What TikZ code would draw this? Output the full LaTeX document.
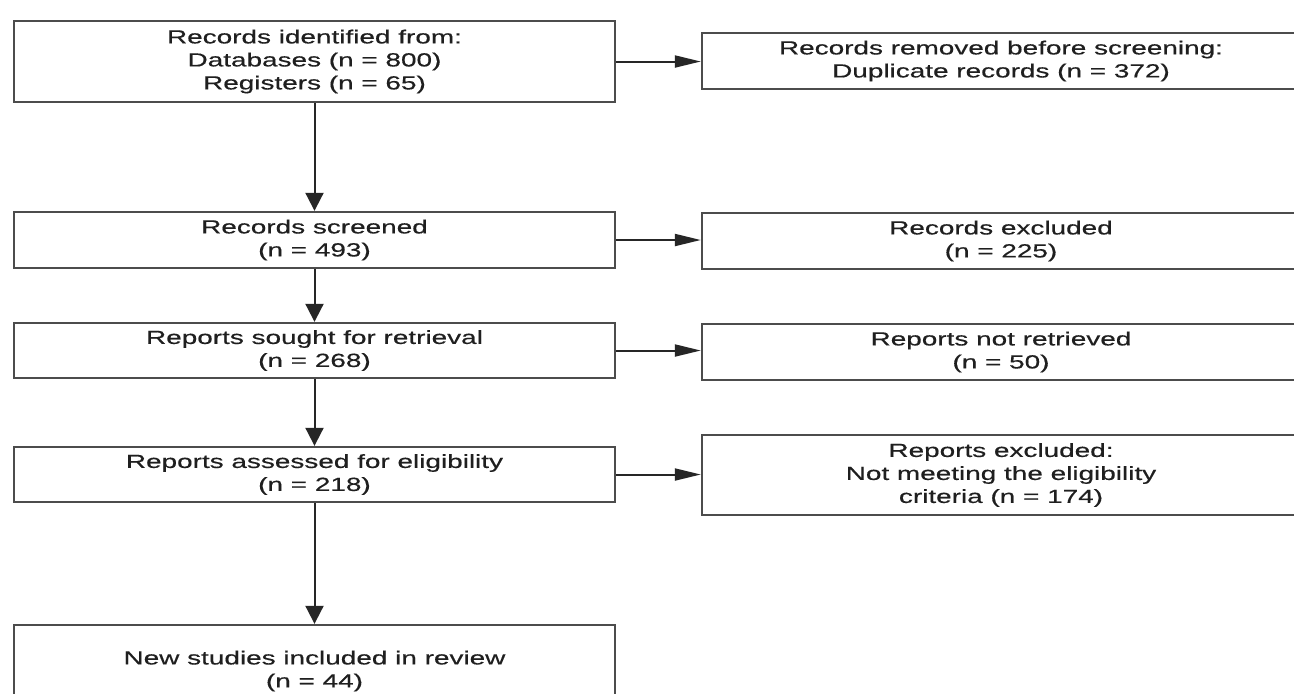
\documentclass[tikz,border=0pt]{standalone}
\usepackage{fontspec}
\setmainfont{Liberation Sans}[FakeStretch=1.47,FakeBold=0.4]
\usetikzlibrary{arrows.meta}
\definecolor{boxline}{rgb}{0.3,0.3,0.3}
\definecolor{txt}{rgb}{0.12,0.12,0.12}
\begin{document}
\begin{tikzpicture}[x=0.5pt,y=-0.5pt,
  box/.style={draw=boxline, line width=1.2pt, fill=white, inner sep=0pt,
    align=center, text=txt, font=\fontsize{9.5pt}{11.5pt}\selectfont},
  lbox/.style={box, minimum width=300.5pt},
  rbox/.style={box, minimum width=299pt},
  harrow/.style={draw=black!85, line width=1pt, -{Triangle[length=13pt,width=6pt]}},
  varrow/.style={draw=black!85, line width=1pt, -{Triangle[length=9pt,width=9pt]}}]
\clip (0,0) rectangle (1294,693);
\fill[white] (0,0) rectangle (1294,693);
% left column
\node[lbox, minimum height=40.5pt] (b1) at (314.5,61.5) {Records identified from:\\Databases (n = 800)\\Registers (n = 65)};
\node[lbox, minimum height=28pt] (b2) at (314.5,240) {Records screened\\(n = 493)};
\node[lbox, minimum height=27.5pt] (b3) at (314.5,350.5) {Reports sought for retrieval\\(n = 268)};
\node[lbox, minimum height=27.5pt] (b4) at (314.5,474.5) {Reports assessed for eligibility\\(n = 218)};
\node[lbox, minimum height=46pt] (b5) at (314.5,671) {New studies included in review\\(n = 44)};
% right column
\node[rbox, minimum height=28pt] (r1) at (1001,61) {Records removed before screening:\\Duplicate records (n = 372)};
\node[rbox, minimum height=28pt] (r2) at (1001,241) {Records excluded\\(n = 225)};
\node[rbox, minimum height=28pt] (r3) at (1001,352) {Reports not retrieved\\(n = 50)};
\node[rbox, minimum height=40pt] (r4) at (1001,475) {Reports excluded:\\Not meeting the eligibility\\criteria (n = 174)};
% vertical arrows
\draw[varrow] (b1.south) -- (b2.north);
\draw[varrow] (b2.south) -- (b3.north);
\draw[varrow] (b3.south) -- (b4.north);
\draw[varrow] (b4.south) -- (b5.north);
% horizontal arrows
\draw[harrow] (b1.east) -- (b1.east -| r1.west);
\draw[harrow] (b2.east) -- (b2.east -| r2.west);
\draw[harrow] (b3.east) -- (b3.east -| r3.west);
\draw[harrow] (b4.east) -- (b4.east -| r4.west);
\end{tikzpicture}
\end{document}
